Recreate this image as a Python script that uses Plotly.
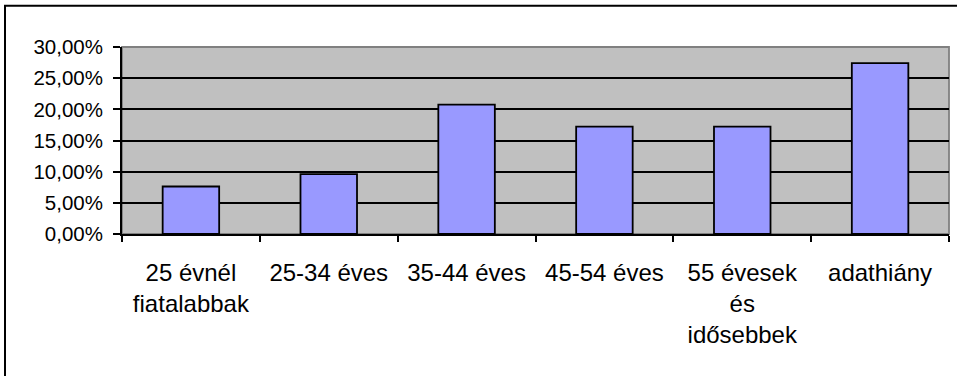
import plotly.graph_objects as go

# Age groups and their shares
categories = [
    "25 évnél<br>fiatalabbak",
    "25-34 éves",
    "35-44 éves",
    "45-54 éves",
    "55 évesek<br>és<br>idősebbek",
    "adathiány",
]
shares = [0.0762, 0.0960, 0.2077, 0.1722, 0.1722, 0.2740]
y_ticks = [0.00, 0.05, 0.10, 0.15, 0.20, 0.25, 0.30]

W, H = 957, 376
ML, MR, MT, MB = 122, 8, 46.5, 141.5
pw, ph = W - ML - MR, H - MT - MB

fig = go.Figure(
    go.Bar(
        x=categories,
        y=shares,
        marker=dict(color="#9999FF", line=dict(color="#000000", width=1.8)),
        hoverinfo="skip",
    )
)

# frame around the whole chart (only the left and top edges fall inside the page)
fig.add_shape(
    type="rect", xref="paper", yref="paper",
    x0=(5 - ML) / pw, x1=1.5,
    y0=-2, y1=(H - MB - 5) / ph,
    line=dict(color="#000000", width=2), fillcolor="rgba(0,0,0,0)",
    layer="above",
)
# grey border of the plot area
fig.add_shape(
    type="rect", xref="paper", yref="paper",
    x0=0, x1=1, y0=0, y1=1,
    line=dict(color="#808080", width=1.8), fillcolor="rgba(0,0,0,0)",
    layer="below",
)

fig.update_layout(
    width=W, height=H,
    margin=dict(l=ML, r=MR, t=MT, b=MB, pad=0),
    paper_bgcolor="#FFFFFF",
    plot_bgcolor="#C0C0C0",
    bargap=0.59,
    showlegend=False,
    separators=", ",
    font=dict(family="Liberation Sans, Arial, sans-serif", color="#000000"),
)
fig.update_xaxes(
    type="category",
    tickson="boundaries",
    ticks="outside", ticklen=6, tickwidth=1.8, tickcolor="#000000",
    showline=True, linecolor="#000000", linewidth=1.8,
    showgrid=False,
    tickfont=dict(size=24),
    ticklabelstandoff=16,
)
fig.update_yaxes(
    range=[0, 0.30],
    tickvals=y_ticks,
    tickformat=".2%",
    ticks="outside", ticklen=7, tickwidth=1.8, tickcolor="#000000",
    showline=True, linecolor="#000000", linewidth=1.8,
    showgrid=True, gridcolor="#000000", gridwidth=1.8,
    zeroline=False,
    tickfont=dict(size=20.5),
    ticklabelstandoff=6,
)

fig.write_html("out.html")
